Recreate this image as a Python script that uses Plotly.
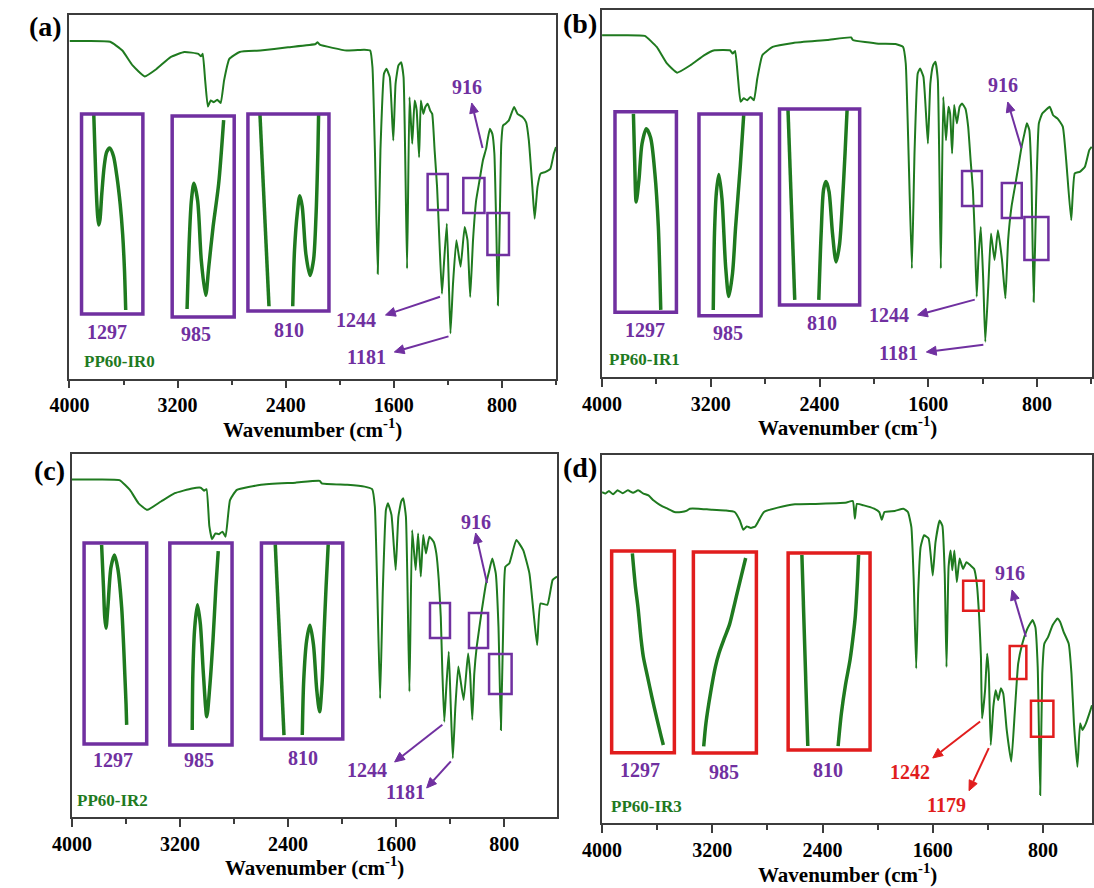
import math
import plotly.graph_objects as go

W, H = 1094, 888

GREEN = "#1f7a1f"
PURPLE = "#7030a0"
RED = "#e11d1d"
FRAME = "#3c3c3c"
SERIF = "Liberation Serif"

# ---------------- FTIR spectra: (wavenumber cm-1, transmittance in % of panel height) ----------------
spec_ir0 = [
    (4000, 92.7), (3865, 92.7), (3699, 92.5), (3609, 90.1), (3533, 86.0), (3443, 83.0), (3354, 85.1),
    (3252, 88.3), (3150, 89.7), (3047, 89.2), (3027, 88.5), (3014, 89.2), (2996, 81.9), (2976, 74.7),
    (2955, 76.4), (2932, 75.9), (2907, 76.6), (2881, 75.7), (2856, 81.9), (2817, 87.8), (2741, 89.7),
    (2588, 90.1), (2383, 91.0), (2179, 91.9), (2164, 92.4), (2148, 91.7), (1949, 90.1), (1821, 90.3),
    (1775, 90.1), (1758, 85.5), (1740, 62.7), (1719, 28.8), (1699, 62.7), (1673, 83.7), (1655, 85.1),
    (1630, 82.8), (1604, 65.4), (1587, 81.0), (1566, 86.0), (1546, 86.9), (1528, 82.8), (1502, 30.2),
    (1484, 77.3), (1464, 64.5), (1446, 76.4), (1431, 73.7), (1413, 60.8), (1400, 76.4), (1382, 72.7),
    (1367, 74.6), (1349, 75.5), (1331, 73.6), (1316, 72.7), (1298, 62.6), (1280, 52.6), (1265, 39.8),
    (1244, 23.3), (1229, 31.6), (1208, 42.5), (1193, 26.1), (1181, 12.4), (1162, 26.1), (1137, 38.0),
    (1106, 30.7), (1076, 41.6), (1055, 38.0), (1035, 22.4), (1014, 38.0), (991, 48.9), (966, 54.4),
    (941, 59.9), (916, 63.3), (907, 65.4), (889, 68.6), (871, 67.2), (856, 61.8), (841, 39.8),
    (830, 20.1), (818, 39.8), (805, 64.5), (792, 69.5), (774, 70.0), (749, 70.9), (710, 74.6),
    (685, 72.7), (647, 71.8), (621, 70.4), (601, 65.4), (575, 52.6), (558, 43.9), (537, 52.6),
    (514, 56.3), (481, 56.7), (442, 57.6), (416, 61.8), (400, 63.6),
]

spec_ir1 = [
    (4000, 93.0), (3849, 93.0), (3686, 92.8), (3598, 89.8), (3523, 85.3), (3448, 82.8), (3347, 84.9),
    (3247, 87.6), (3172, 88.9), (3059, 88.9), (3039, 88.0), (3021, 88.7), (3001, 81.7), (2981, 74.9),
    (2958, 75.8), (2933, 75.3), (2908, 76.2), (2883, 75.3), (2858, 81.2), (2820, 87.6), (2745, 89.8),
    (2594, 90.9), (2343, 91.7), (2168, 92.4), (2155, 91.7), (1967, 90.7), (1841, 90.6), (1786, 89.8),
    (1766, 85.3), (1746, 61.7), (1721, 29.5), (1701, 61.7), (1678, 82.6), (1661, 83.9), (1636, 81.7),
    (1603, 63.5), (1585, 79.9), (1565, 84.8), (1548, 85.8), (1530, 80.8), (1508, 29.5), (1490, 76.2),
    (1470, 64.4), (1452, 73.5), (1440, 71.7), (1425, 60.8), (1410, 74.0), (1390, 69.0), (1370, 73.5),
    (1352, 74.4), (1327, 73.0), (1307, 68.1), (1289, 59.0), (1272, 50.8), (1257, 37.2), (1244, 21.8),
    (1232, 31.8), (1214, 40.8), (1196, 26.3), (1181, 9.5), (1159, 24.5), (1139, 39.0), (1113, 31.8),
    (1088, 39.9), (1058, 31.8), (1033, 21.3), (1013, 37.2), (988, 46.3), (963, 51.7), (938, 57.2),
    (916, 62.2), (893, 66.2), (875, 69.0), (857, 67.2), (842, 55.4), (825, 20.4), (807, 48.1),
    (787, 69.0), (762, 71.7), (737, 72.6), (707, 73.5), (682, 71.2), (649, 70.3), (611, 68.1),
    (586, 59.0), (549, 42.6), (523, 55.4), (486, 55.8), (448, 57.2), (416, 61.7), (398, 62.6),
]

spec_ir2 = [
    (4000, 93.0), (3826, 93.0), (3648, 92.8), (3571, 90.1), (3507, 86.4), (3443, 84.6), (3341, 86.9),
    (3239, 89.2), (3111, 90.5), (3047, 90.7), (3022, 89.9), (3004, 90.3), (2983, 80.1), (2963, 76.5),
    (2938, 78.1), (2912, 77.9), (2886, 78.6), (2863, 77.2), (2830, 87.3), (2779, 90.1), (2600, 91.5),
    (2345, 92.1), (2166, 92.6), (2151, 91.9), (1962, 91.5), (1834, 91.0), (1778, 90.3), (1758, 85.5),
    (1740, 62.5), (1719, 32.6), (1699, 62.5), (1676, 84.6), (1661, 86.4), (1635, 83.2), (1604, 68.0),
    (1584, 82.7), (1563, 86.9), (1548, 87.8), (1528, 82.7), (1502, 34.5), (1482, 79.0), (1456, 68.0),
    (1438, 78.1), (1418, 66.2), (1400, 77.7), (1380, 72.6), (1354, 77.2), (1323, 75.8), (1303, 72.6),
    (1285, 65.3), (1270, 55.1), (1258, 39.5), (1244, 26.2), (1229, 35.8), (1211, 45.5), (1196, 30.3),
    (1181, 16.1), (1162, 30.3), (1140, 41.4), (1101, 32.2), (1068, 45.0), (1053, 39.5), (1037, 26.7),
    (1022, 39.5), (1004, 46.9), (966, 57.0), (935, 64.3), (916, 67.1), (889, 71.2), (863, 67.1),
    (843, 52.4), (825, 23.9), (808, 52.4), (792, 68.9), (762, 69.9), (711, 76.3), (660, 73.5),
    (614, 67.1), (583, 56.1), (557, 47.3), (532, 58.8), (481, 58.4), (442, 65.3), (410, 66.2),
]

spec_ir3 = [
    (4000, 89.8), (3975, 89.4), (3950, 90.1), (3920, 89.2), (3888, 90.3), (3850, 89.5), (3813, 90.3),
    (3775, 89.6), (3738, 90.3), (3700, 89.4), (3663, 88.9), (3625, 87.5), (3575, 86.2), (3525, 85.3),
    (3475, 84.4), (3425, 84.4), (3388, 84.7), (3363, 85.3), (3300, 85.3), (3200, 85.0), (3100, 84.8),
    (3038, 84.4), (3000, 82.1), (2975, 79.6), (2950, 80.5), (2920, 80.1), (2888, 80.5), (2863, 82.1),
    (2825, 84.4), (2725, 85.6), (2600, 86.5), (2450, 86.6), (2300, 86.8), (2225, 87.0), (2180, 87.4),
    (2165, 82.6), (2150, 86.6), (2100, 86.2), (2025, 85.3), (1988, 84.4), (1970, 82.3), (1950, 84.4),
    (1875, 84.7), (1813, 85.3), (1780, 84.4), (1755, 80.3), (1738, 65.9), (1720, 42.0), (1705, 63.2),
    (1688, 74.9), (1663, 78.1), (1630, 77.2), (1600, 67.2), (1580, 76.2), (1550, 82.1), (1530, 80.7),
    (1513, 67.7), (1500, 42.4), (1485, 69.5), (1470, 74.0), (1458, 68.6), (1443, 74.0), (1425, 65.4),
    (1405, 71.8), (1380, 69.0), (1355, 70.8), (1325, 69.9), (1300, 69.0), (1280, 65.0), (1263, 56.0),
    (1250, 45.1), (1242, 28.4), (1220, 36.1), (1205, 46.0), (1193, 40.6), (1179, 21.2), (1160, 31.6),
    (1143, 36.1), (1125, 33.4), (1105, 36.6), (1088, 35.2), (1063, 25.3), (1030, 16.7), (1005, 29.8),
    (980, 43.3), (950, 48.7), (916, 52.5), (900, 53.7), (875, 55.1), (855, 53.2), (838, 42.4),
    (820, 7.7), (805, 40.6), (790, 48.7), (763, 50.5), (730, 53.7), (695, 55.5), (675, 54.6),
    (650, 51.9), (613, 48.7), (593, 40.6), (575, 27.1), (550, 15.3), (530, 27.1), (513, 25.3),
    (488, 27.1), (463, 29.8), (444, 32.0),
]

# ---------------- magnified windows (fraction of window width, fraction of window height) ----------------
zoom_ir0_1297 = [(0.20, 0.995), (0.22, 0.80), (0.24, 0.62), (0.26, 0.50), (0.28, 0.445), (0.30, 0.47),
                 (0.33, 0.60), (0.37, 0.74), (0.41, 0.81), (0.46, 0.83), (0.52, 0.79), (0.58, 0.68),
                 (0.63, 0.55), (0.67, 0.40), (0.70, 0.22), (0.72, 0.02)]
zoom_ir0_985 = [(0.24, 0.04), (0.28, 0.415), (0.31, 0.58), (0.35, 0.665), (0.41, 0.58), (0.47, 0.28),
                (0.54, 0.108), (0.59, 0.25), (0.66, 0.45), (0.75, 0.665), (0.83, 0.98)]
zoom_ir0_810 = [(0.149, 0.995), (0.26, 0.024), (None, None), (0.553, 0.024), (0.575, 0.31), (0.61, 0.50),
                (0.64, 0.585), (0.67, 0.53), (0.715, 0.29), (0.766, 0.18), (0.81, 0.26), (0.84, 0.48),
                (0.864, 0.82), (0.872, 0.995)]

zoom_ir1_1297 = [(0.30, 0.99), (0.32, 0.76), (0.345, 0.55), (0.39, 0.66), (0.44, 0.84), (0.51, 0.915),
                 (0.58, 0.87), (0.65, 0.69), (0.705, 0.43), (0.73, 0.19), (0.745, 0.012)]
zoom_ir1_985 = [(0.23, 0.028), (0.25, 0.41), (0.28, 0.61), (0.32, 0.70), (0.37, 0.58), (0.43, 0.24),
                (0.48, 0.095), (0.54, 0.21), (0.59, 0.44), (0.665, 0.74), (0.72, 0.995)]
zoom_ir1_810 = [(0.106, 0.995), (0.19, 0.026), (None, None), (0.49, 0.026), (0.52, 0.37), (0.55, 0.59),
                (0.58, 0.63), (0.617, 0.58), (0.66, 0.37), (0.706, 0.22), (0.749, 0.31), (0.787, 0.54),
                (0.817, 0.77), (0.843, 0.995)]

zoom_ir2_1297 = [(0.28, 0.99), (0.31, 0.78), (0.33, 0.63), (0.35, 0.576), (0.38, 0.68), (0.43, 0.88),
                 (0.486, 0.94), (0.54, 0.87), (0.60, 0.68), (0.63, 0.50), (0.65, 0.35), (0.67, 0.20),
                 (0.68, 0.095)]
zoom_ir2_985 = [(0.36, 0.074), (0.37, 0.35), (0.40, 0.58), (0.444, 0.694), (0.49, 0.60), (0.54, 0.35),
                (0.594, 0.14), (0.64, 0.28), (0.694, 0.52), (0.74, 0.78), (0.778, 0.96)]
zoom_ir2_810 = [(0.17, 0.993), (0.277, 0.02), (None, None), (0.502, 0.02), (0.52, 0.30), (0.555, 0.50),
                (0.596, 0.58), (0.64, 0.48), (0.68, 0.25), (0.715, 0.139), (0.745, 0.28), (0.766, 0.504),
                (0.795, 0.78), (0.821, 0.993)]

zoom_ir3_1297 = [(0.33, 0.988), (0.38, 0.82), (0.42, 0.72), (0.47, 0.56), (0.505, 0.476), (0.57, 0.38),
                 (0.64, 0.278), (0.72, 0.17), (0.79, 0.08), (0.824, 0.038)]
zoom_ir3_985 = [(0.164, 0.033), (0.20, 0.15), (0.273, 0.30), (0.35, 0.43), (0.41, 0.50), (0.49, 0.57),
                (0.574, 0.64), (0.63, 0.71), (0.683, 0.78), (0.76, 0.88), (0.83, 0.97)]
zoom_ir3_810 = [(0.168, 0.99), (0.24, 0.02), (None, None), (0.61, 0.02), (0.65, 0.186), (0.70, 0.33),
                (0.756, 0.458), (0.80, 0.60), (0.82, 0.68), (0.845, 0.85), (0.86, 0.99)]

zoom_labels = ["1297", "985", "810"]
sample_names = ["PP60-IR0", "PP60-IR1", "PP60-IR2", "PP60-IR3"]
panel_letters = ["(a)", "(b)", "(c)", "(d)"]
peak_labels = [("1244", "1181"), ("1244", "1181"), ("1244", "1181"), ("1242", "1179")]
shoulder_label = "916"
tick_values = [4000, 3200, 2400, 1600, 800]
minor_tick_values = [3600, 2800, 2000, 1200, 400]

# ---------------- layout of the four panels (pixel geometry) ----------------
panels = [
    dict(spec=spec_ir0, zooms=[zoom_ir0_1297, zoom_ir0_985, zoom_ir0_810], frame=(50.5, 547.0, 14.5, 378.5),
         wn_end=400, letter=(26, 27), name=(101.7, 362),
         zoom_boxes=[(62.8, 125.4, 114, 314), (155.3, 218.6, 116, 317), (232.6, 315.3, 114, 311)],
         zoom_text=[(88.5, 332), (180, 334), (275, 330)],
         marks=[(416, 436.6, 174, 210), (452.4, 474, 178, 213), (477, 499, 213, 255)],
         s916=((456, 87), (461, 103), (472, 148)),
         p1=((343, 320), (373, 315)), p2=((354, 357), (382, 352)),
         box_color=PURPLE, peak_color=PURPLE),
    dict(spec=spec_ir1, zooms=[zoom_ir1_1297, zoom_ir1_985, zoom_ir1_810], frame=(594.0, 1094.0, 9.5, 376.7),
         wn_end=396, letter=(571.5, 23.5), name=(637.5, 359),
         zoom_boxes=[(607.2, 669.9, 111.7, 312.3), (692.9, 756.3, 114, 315.7), (775.1, 856.9, 109, 305)],
         zoom_text=[(637.5, 330), (723, 333), (818.6, 323)],
         marks=[(961.4, 981.6, 171, 206), (1002, 1022.3, 183, 218), (1025, 1049.5, 217, 260)],
         s916=((1003, 85), (1008, 102), (1022, 148)),
         p1=((886.5, 315), (916, 315)), p2=((897, 353), (925, 352)),
         box_color=PURPLE, peak_color=PURPLE),
    dict(spec=spec_ir2, zooms=[zoom_ir2_1297, zoom_ir2_985, zoom_ir2_810], frame=(53.0, 548.0, 454.0, 816.7),
         wn_end=410, letter=(30, 470), name=(94.5, 800),
         zoom_boxes=[(65.4, 129.3, 543, 744), (152.9, 216.4, 543, 745), (246.4, 329.4, 543, 739)],
         zoom_text=[(94.7, 760), (183, 760), (288.8, 758)],
         marks=[(418.4, 438.8, 603, 638), (458.2, 477.7, 613, 648), (478.7, 501.7, 654, 694)],
         s916=((465, 522), (465, 533), (476.6, 583)),
         p1=((354, 770), (382.3, 762)), p2=((393, 792), (415, 788)),
         box_color=PURPLE, peak_color=PURPLE),
    dict(spec=spec_ir3, zooms=[zoom_ir3_1297, zoom_ir3_985, zoom_ir3_810], frame=(594.0, 1094.0, 454.5, 823.3),
         wn_end=444, letter=(571, 467), name=(639.7, 806.7),
         zoom_boxes=[(603.8, 667.8, 551, 752.7), (687.2, 751.5, 552, 753), (783.9, 867.5, 553, 750)],
         zoom_text=[(632.7, 770), (718.8, 772), (824.3, 770)],
         marks=[(962.5, 983.6, 580.7, 610.7), (1010, 1027, 646, 679), (1031.7, 1054.6, 700.7, 736.7)],
         s916=((1010.6, 573), (1012.4, 590), (1026.5, 636.7)),
         p1=((908.7, 772), (931.5, 758)), p2=((945.6, 805), (968.5, 790.7)),
         box_color=RED, peak_color=RED),
]


def paper(x, y):
    return x / W, 1 - y / H


def dom(x0, x1, y0, y1):
    return [x0 / W, min(x1 / W, 1.0)], [1 - y1 / H, 1 - y0 / H]


def to_px(p, wn, v):
    x0, x1, y0, y1 = p["frame"]
    px = x0 + (4000 - wn) / (4000 - p["wn_end"]) * (x1 - x0)
    py = y1 - v / 100.0 * (y1 - y0)
    return px, py


def label(x, y, s, color, size):
    px, py = paper(x, y)
    return dict(x=px, y=py, xref="paper", yref="paper", text=f"<b>{s}</b>", showarrow=False,
                xanchor="center", yanchor="middle",
                font=dict(family=SERIF, size=size, color=color))


def arrow_shapes(tail, head, color, head_len=10.0, head_half=4.5, width=2.0):
    """Straight arrow drawn as a line plus a filled triangular head (pixel input)."""
    dx, dy = head[0] - tail[0], head[1] - tail[1]
    n = math.hypot(dx, dy)
    ux, uy = dx / n, dy / n
    bx, by = head[0] - ux * head_len, head[1] - uy * head_len
    nx, ny = -uy, ux
    pts = [head, (bx + nx * head_half, by + ny * head_half), (bx - nx * head_half, by - ny * head_half)]
    path = "M " + " L ".join(f"{x / W:.5f},{1 - y / H:.5f}" for x, y in pts) + " Z"
    t0, t1 = paper(*tail)
    b0, b1 = paper(bx, by)
    return [
        dict(type="line", xref="paper", yref="paper", x0=t0, y0=t1, x1=b0, y1=b1,
             line=dict(color=color, width=width)),
        dict(type="path", xref="paper", yref="paper", path=path, fillcolor=color,
             line=dict(color=color, width=1)),
    ]


fig = go.Figure()
layout = dict(width=W, height=H, margin=dict(l=0, r=0, t=0, b=0), showlegend=False,
              plot_bgcolor="white", paper_bgcolor="white")
annotations, shapes = [], []

axis_n = 0
for i, p in enumerate(panels):
    axis_n += 1
    xs = "" if axis_n == 1 else str(axis_n)
    xd, yd = dom(*p["frame"])
    wn = [a for a, b in p["spec"]]
    tr = [b for a, b in p["spec"]]
    fig.add_trace(go.Scatter(x=wn, y=tr, mode="lines", xaxis="x" + xs, yaxis="y" + xs,
                             line=dict(color=GREEN, width=2, shape="spline", smoothing=0.4),
                             hoverinfo="skip"))
    layout["xaxis" + xs] = dict(
        domain=xd, range=[4000, p["wn_end"]], anchor="y" + xs,
        tickmode="array", tickvals=tick_values, ticks="outside", ticklen=8, tickwidth=1.5,
        tickcolor=FRAME,
        minor=dict(tickmode="array", tickvals=minor_tick_values, ticks="outside",
                   ticklen=5, tickwidth=1.5, tickcolor=FRAME),
        showline=True, linecolor=FRAME, linewidth=1.8, mirror=True,
        showgrid=False, zeroline=False,
        tickfont=dict(family=SERIF, size=20, color="black", weight="bold"))
    layout["yaxis" + xs] = dict(
        domain=yd, range=[0, 100], anchor="x" + xs, showticklabels=False, ticks="",
        showline=True, linecolor=FRAME, linewidth=1.8, mirror=True,
        showgrid=False, zeroline=False)

    x0, x1, y0, y1 = p["frame"]
    annotations.append(label((x0 + min(x1, W)) / 2, y1 + 50, "Wavenumber (cm<sup>-1</sup>)", "black", 21))
    annotations.append(label(p["letter"][0], p["letter"][1], panel_letters[i], "black", 28))
    annotations.append(label(p["name"][0], p["name"][1], sample_names[i], GREEN, 17))

    # magnified windows
    for k, (zdata, box) in enumerate(zip(p["zooms"], p["zoom_boxes"])):
        axis_n += 1
        s = str(axis_n)
        bxd, byd = dom(*box)
        fig.add_trace(go.Scatter(x=[a for a, b in zdata], y=[b for a, b in zdata], mode="lines",
                                 xaxis="x" + s, yaxis="y" + s, connectgaps=False,
                                 line=dict(color=GREEN, width=3.5, shape="spline", smoothing=0.8),
                                 hoverinfo="skip"))
        layout["xaxis" + s] = dict(domain=bxd, range=[0, 1], anchor="y" + s, visible=False)
        layout["yaxis" + s] = dict(domain=byd, range=[0, 1], anchor="x" + s, visible=False)
        shapes.append(dict(type="rect", xref="paper", yref="paper",
                           x0=bxd[0], x1=bxd[1], y0=byd[0], y1=byd[1],
                           line=dict(color=p["box_color"], width=3.5)))
        tx, ty = p["zoom_text"][k]
        annotations.append(label(tx, ty, zoom_labels[k], PURPLE, 20))

    # small markers on the spectrum
    for (mx0, mx1, my0, my1) in p["marks"]:
        mxd, myd = dom(mx0, mx1, my0, my1)
        shapes.append(dict(type="rect", xref="paper", yref="paper",
                           x0=mxd[0], x1=mxd[1], y0=myd[0], y1=myd[1],
                           line=dict(color=p["box_color"], width=2.5)))

    # 916 shoulder
    (t916, h916, tail916) = p["s916"]
    annotations.append(label(t916[0], t916[1], shoulder_label, PURPLE, 20))
    shapes.extend(arrow_shapes(tail916, h916, PURPLE))

    # strong bands with arrows starting at the band tips
    spec_map = dict(p["spec"])
    for (txt_pos, head), lab in zip((p["p1"], p["p2"]), peak_labels[i]):
        tip = to_px(p, int(lab), spec_map[int(lab)])
        tail = (tip[0] - 2, tip[1] + 3)
        shapes.extend(arrow_shapes(tail, head, p["peak_color"]))
        annotations.append(label(txt_pos[0], txt_pos[1], lab, p["peak_color"], 20))

layout["annotations"] = annotations
layout["shapes"] = shapes
fig.update_layout(**layout)
fig.write_html("out.html")
